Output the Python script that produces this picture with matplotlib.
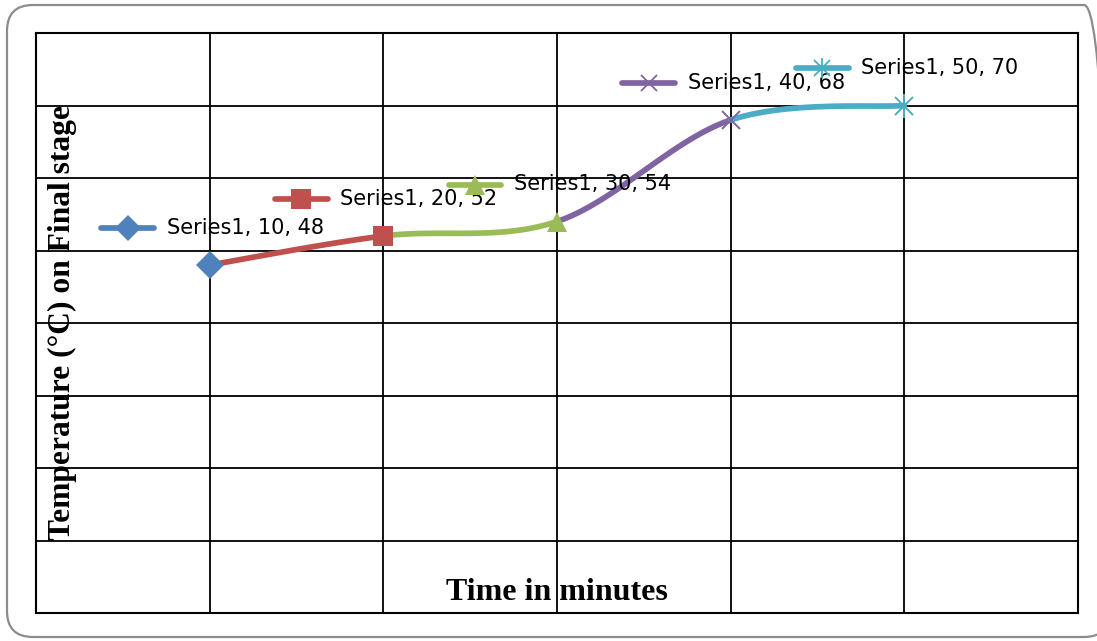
import numpy as np
import matplotlib
matplotlib.use("Agg")
import matplotlib.pyplot as plt
from matplotlib.patches import FancyBboxPatch
from matplotlib.lines import Line2D
from matplotlib.transforms import IdentityTransform
from matplotlib.offsetbox import AnnotationBbox, HPacker, DrawingArea, TextArea

# Data
series_name = "Series1"
time_min = [10, 20, 30, 40, 50]
temperature = [48, 52, 54, 68, 70]
point_colors = ["#4F81BD", "#C0504D", "#9BBB59", "#8064A2", "#4BACC6"]
point_markers = ["D", "s", "^", "x", "star"]
x_label = "Time in minutes"
y_label = "Temperature (°C) on Final stage"

W, H = 1097, 641
fig = plt.figure(figsize=(W / 100, H / 100), dpi=100)

# rounded chart frame (pixel units)
frame = FancyBboxPatch((7, H - 637), 1110 - 7, 632,
                       boxstyle="round,pad=0,rounding_size=26",
                       transform=IdentityTransform(), facecolor="none",
                       edgecolor="#8c8c8c", linewidth=1.6, zorder=-1)
fig.patches.append(frame)

L, R, T, B = 36, 1078, 33, 613
ax = fig.add_axes([L / W, (H - B) / H, (R - L) / W, (B - T) / H])
ax.set_xlim(0, 60)
ax.set_ylim(0, 80)
ax.set_xticks(np.arange(0, 61, 10))
ax.set_yticks(np.arange(0, 81, 10))
ax.tick_params(length=0, labelbottom=False, labelleft=False)
ax.grid(True, color="black", linewidth=1.3)
for s in ax.spines.values():
    s.set_color("black")
    s.set_linewidth(1.5)
ax.set_facecolor("none")
ax.set_axisbelow(True)

LW = 4.1


def draw_marker(a, x, y, kind, color, zorder=5):
    kw = dict(color=color, linestyle="none", zorder=zorder)
    if kind == "star":
        a.plot([x], [y], marker="x", markersize=13, markeredgewidth=1.4, **kw)
        a.plot([x], [y], marker="|", markersize=17, markeredgewidth=1.4, **kw)
    elif kind == "x":
        a.plot([x], [y], marker="x", markersize=13, markeredgewidth=1.4, **kw)
    else:
        ms = {"D": 14, "s": 14.5, "^": 15}[kind]
        a.plot([x], [y], marker=kind, markersize=ms, markeredgewidth=0, **kw)


# smoothed line (cardinal Bezier), each segment coloured by its end point
px = np.array(time_min, dtype=float)
py = np.array(temperature, dtype=float)
P = np.column_stack([px, py])
Pext = np.vstack([P[0], P, P[-1]])
t = np.linspace(0, 1, 60)[:, None]
for i in range(len(P) - 1):
    p0, p1, p2, p3 = Pext[i], Pext[i + 1], Pext[i + 2], Pext[i + 3]
    c1 = p1 + (p2 - p0) / 6
    c2 = p2 - (p3 - p1) / 6
    curve = ((1 - t) ** 3) * p1 + 3 * ((1 - t) ** 2) * t * c1 + 3 * (1 - t) * t ** 2 * c2 + t ** 3 * p2
    ax.plot(curve[:, 0], curve[:, 1], color=point_colors[i + 1], linewidth=LW,
            solid_capstyle="round", zorder=3)

for xv, yv, c, m in zip(time_min, temperature, point_colors, point_markers):
    draw_marker(ax, xv, yv, m, c)

# data labels with legend keys
for xv, yv, c, m in zip(time_min, temperature, point_colors, point_markers):
    da = DrawingArea(42, 14, 0, 0)
    da.add_artist(Line2D([2, 40], [7, 7], color=c, linewidth=LW, solid_capstyle="round"))
    if m == "star":
        da.add_artist(Line2D([21], [7], marker="x", markersize=12, markeredgewidth=1.3, color=c))
        da.add_artist(Line2D([21], [7], marker="|", markersize=15, markeredgewidth=1.3, color=c))
    elif m == "x":
        da.add_artist(Line2D([21], [7], marker="x", markersize=12, markeredgewidth=1.3, color=c))
    else:
        ms = {"D": 13, "s": 14, "^": 14}[m]
        da.add_artist(Line2D([21], [7], marker=m, markersize=ms, markeredgewidth=0, color=c))
    txt = TextArea(f"{series_name}, {xv}, {yv}",
                   textprops=dict(fontsize=15, family=["Liberation Sans Narrow", "DejaVu Sans"],
                                  color="black"))
    box = HPacker(children=[da, txt], align="center", pad=0, sep=7)
    ab = AnnotationBbox(box, (xv, yv), xybox=(-82 * 0.72 - 21, 37 * 0.72),
                        xycoords="data", boxcoords="offset points",
                        box_alignment=(0, 0.5), frameon=False, zorder=6)
    ax.add_artist(ab)

ax.text(62 / W, (H - 322) / H, y_label, transform=fig.transFigure, rotation=90,
        ha="center", va="center", fontsize=22.7, fontweight="bold",
        family="Liberation Serif", zorder=7)
ax.text(557 / W, (H - 592) / H, x_label, transform=fig.transFigure,
        ha="center", va="center", fontsize=23, fontweight="bold",
        family="Liberation Serif", zorder=7)

fig.savefig("out.png", dpi=100)
